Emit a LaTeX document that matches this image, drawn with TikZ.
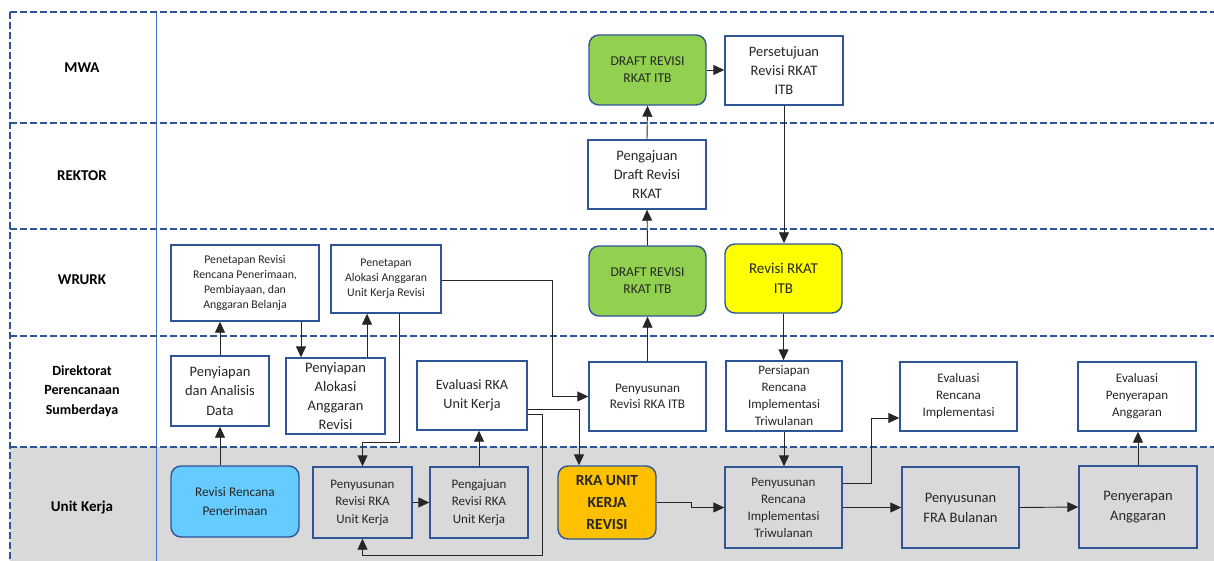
\documentclass[tikz,border=0pt]{standalone}
\usepackage{fontspec}
\setmainfont{Carlito}
\usetikzlibrary{arrows.meta}
\definecolor{bordblue}{HTML}{2F5597}
\definecolor{lineblue}{HTML}{4472C4}
\definecolor{dashblue}{HTML}{2F5597}
\definecolor{lanegray}{HTML}{D9D9D9}
\definecolor{boxgreen}{HTML}{92D050}
\definecolor{boxyellow}{HTML}{FFFF00}
\definecolor{boxcyan}{HTML}{66CCFF}
\definecolor{boxorange}{HTML}{FFC000}
\definecolor{txt}{HTML}{262626}
\definecolor{conn}{HTML}{262626}
\newcommand{\fs}[2]{\fontsize{#1}{#2}\selectfont}
\begin{document}
\begin{tikzpicture}[x=1pt,y=-1pt,
  box/.style={draw=bordblue, line width=1.4pt, fill=white, align=center, inner sep=1pt, text=txt},
  gbox/.style={box, fill=none},
  rbox/.style={box, rounded corners=10pt},
  sz/.style 2 args={minimum width=#1pt, minimum height=#2pt},
  lanelabel/.style={font=\bfseries\fs{15}{19}, align=center, text=black},
  arr/.style={draw=conn, line width=0.9pt, -{Triangle[length=11pt,width=10pt]}},
  lane/.style={draw=dashblue, line width=1.6pt, dash pattern=on 7pt off 3pt},
]
\useasboundingbox (0,0) rectangle (1214,561);
% background and lanes
\fill[lanegray] (10,447) rectangle (1214,561);
\draw[lineblue, line width=1pt] (156,12) -- (156,561);
\draw[lane] (10,12) -- (1214,12);
\draw[lane] (10,123) -- (1214,123);
\draw[lane] (10,229) -- (1214,229);
\draw[lane] (10,336) -- (1214,336);
\draw[lane] (10,447) -- (1214,447);
\draw[lane] (10,12) -- (10,561);
% lane labels
\node[lanelabel] (lmwa) at (82,68) {MWA};
\node[lanelabel] (lrek) at (82,176) {REKTOR};
\node[lanelabel] (lwr) at (82,280) {WRURK};
\node[lanelabel, font=\bfseries\fs{14}{19.5}] (ldir) at (82,391) {Direktorat\\Perencanaan\\Sumberdaya};
\node[lanelabel] (luk) at (82,508) {Unit Kerja};
% MWA
\node[rbox, fill=boxgreen, sz={117}{70}, font=\fs{13.5}{17}] (dm) at (647.5,70) {DRAFT REVISI\\RKAT ITB};
\node[box, sz={118}{69}, font=\fs{14.5}{19}] (pst) at (784,70.5) {Persetujuan\\Revisi RKAT\\ITB};
% REKTOR
\node[box, sz={118}{69}, font=\fs{14.5}{19}] (pgd) at (647,174.5) {Pengajuan\\Draft Revisi\\RKAT};
% WRURK
\node[box, sz={148}{76}, font=\fs{11.8}{15}] (ptr) at (245,283) {Penetapan Revisi\\Rencana Penerimaan,\\Pembiayaan, dan\\Anggaran Belanja};
\node[box, sz={110}{68}, font=\fs{11.8}{15}] (pta) at (386,279) {Penetapan\\Alokasi Anggaran\\Unit Kerja Revisi};
\node[rbox, fill=boxgreen, sz={117}{70}, font=\fs{13.5}{17}] (dw) at (647.5,281) {DRAFT REVISI\\RKAT ITB};
\node[rbox, fill=boxyellow, sz={117}{69}, font=\fs{15}{20}] (rr) at (783.5,278.5) {Revisi RKAT\\ITB};
% Direktorat
\node[box, sz={98}{70}, font=\fs{14.5}{19.5}] (pad) at (220,391) {Penyiapan\\dan Analisis\\Data};
\node[box, sz={99}{76}, font=\fs{14.5}{19}] (paa) at (335.5,396) {Penyiapan\\Alokasi\\Anggaran\\Revisi};
\node[box, sz={110}{69}, font=\fs{14.2}{19}] (erk) at (472,395.5) {Evaluasi RKA\\Unit Kerja};
\node[box, sz={117}{69}, font=\fs{13.2}{16}] (prk) at (647.5,396.5) {Penyusunan\\Revisi RKA ITB};
\node[box, sz={116}{70}, font=\fs{13}{17}] (pri) at (784,396) {Persiapan\\Rencana\\Implementasi\\Triwulanan};
\node[box, sz={117}{69}, font=\fs{13}{17}] (eri) at (958.5,396.5) {Evaluasi\\Rencana\\Implementasi};
\node[box, sz={118}{69}, font=\fs{13}{17}] (epa) at (1137,396.5) {Evaluasi\\Penyerapan\\Anggaran};
% Unit Kerja
\node[rbox, fill=boxcyan, sz={128}{71}, font=\fs{13.3}{19}] (rrp) at (235,501.5) {Revisi Rencana\\Penerimaan};
\node[gbox, sz={99}{71}, font=\fs{13}{17.5}] (pru) at (362.5,502.5) {Penyusunan\\Revisi RKA\\Unit Kerja};
\node[gbox, sz={98}{71}, font=\fs{13}{17.5}] (pgu) at (479,502.5) {Pengajuan\\Revisi RKA\\Unit Kerja};
\node[rbox, fill=boxorange, sz={98}{73}, font=\bfseries\fs{15.5}{22}] (rku) at (607,502.5) {RKA UNIT\\KERJA\\REVISI};
\node[gbox, sz={117}{81}, font=\fs{13}{17}] (pnr) at (783.5,507.5) {Penyusunan\\Rencana\\Implementasi\\Triwulanan};
\node[gbox, sz={117}{81}, font=\fs{14.5}{20}] (fra) at (960.5,507.5) {Penyusunan\\FRA Bulanan};
\node[gbox, sz={118}{82}, font=\fs{14.5}{20}] (pya) at (1138,507) {Penyerapan\\Anggaran};
% connectors
\draw[arr] (pad.south |- rrp.north) -- (pad.south);
\draw[arr] (pad.north) -- (pad.north |- ptr.south);
\draw[arr] (301,0 |- ptr.south) -- (301,0 |- paa.north);
\draw[arr] (367,0 |- paa.north) -- (367,0 |- pta.south);
\draw[arr] (399,0 |- pta.south) -- (399,442) -| (pru.north);
\draw[arr] (pru.east) -- (pgu.west);
\draw[arr] (pgu.north) -- (pgu.north |- erk.south);
\draw[arr] (erk.east |- 0,409) -- (579,409) -- (579,0 |- rku.north);
\draw[arr] (erk.east |- 0,414) -- (542,414) -- (542,555) -| (pru.south);
\draw[arr] (pta.east |- 0,280) -- (552,280) |- (prk.west);
\draw[arr] (prk.north) -- (dw.south);
\draw[arr] (dw.north) -- (pgd.south);
\draw[arr] (pgd.north) -- (dm.south);
\draw[arr] (dm.east) -- (pst.west |- dm.east);
\draw[arr] (pst.south) -- (pst.south |- rr.north);
\draw[arr] (rr.south) -- (rr.south |- pri.north);
\draw[arr] (pri.south) -- (pri.south |- pnr.north);
\draw[arr] (rku.east |- 0,502) -- (691,502) |- (pnr.west);
\draw[arr] (pnr.east |- 0,483) -- (871,483) -- (871,418) -- (eri.west |- 0,418);
\draw[arr] (pnr.east) -- (fra.west);
\draw[arr] (fra.east) -- (pya.west);
\draw[arr] (pya.north) -- (pya.north |- epa.south);
\end{tikzpicture}
\end{document}
